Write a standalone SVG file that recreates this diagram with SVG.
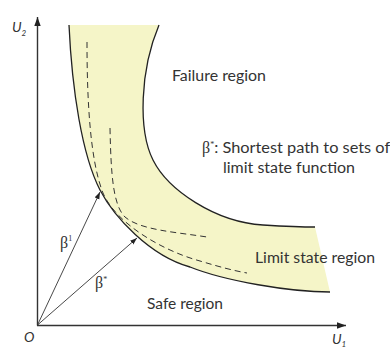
<svg xmlns="http://www.w3.org/2000/svg" width="390" height="351" viewBox="0 0 390 351">
<defs>
<style>
.txt{font-family:Lato,"Open Sans","Liberation Sans",sans-serif;font-size:15.5px;fill:#333}
.it{font-family:Lato,"Liberation Sans",sans-serif;font-style:italic;fill:#333}
.gr{font-family:"Liberation Serif","DejaVu Serif",serif;fill:#333}
.bd{fill:none;stroke:#222;stroke-width:1.3}
.ds{fill:none;stroke:#333;stroke-width:1;stroke-dasharray:6 4}
.ax{stroke:#333;stroke-width:1.4;fill:none}
.vec{stroke:#333;stroke-width:0.9;fill:none}
</style>
<marker id="axh" markerWidth="10" markerHeight="8" refX="9" refY="4" orient="auto" markerUnits="userSpaceOnUse">
<path d="M0,0.8 L9,4 L0,7.2 Z" fill="#222"/>
</marker>
<marker id="vh" markerWidth="8" markerHeight="6" refX="7" refY="3" orient="auto" markerUnits="userSpaceOnUse">
<path d="M0,0.5 L7,3 L0,5.5 Z" fill="#222"/>
</marker>
</defs>
<rect width="390" height="351" fill="#fff"/>
<g id="band">
<path d="M69,25 C72,90 82,155 100,190 C114,217 150,256 190,267 C225,281 290,292 330,292 L315,227 C300,227 280,226 263,225 C215,222 168,190 153,160 C138,130 140,70 159,25 Z" fill="#f5f5c8"/>
<path class="bd" d="M69,25 C72,90 82,155 100,190 C114,217 150,256 190,267 C225,281 290,292 330,292"/>
<path class="bd" d="M159,25 C140,70 138,130 153,160 C168,190 215,222 263,225 C280,226 300,227 315,227"/>
</g>
<g id="dashed">
<path class="ds" d="M87,42 C87,100 90,160 103,193 C115,222 160,250 200,261 C220,267 235,271 247,273"/>
<path class="ds" d="M110,128 C111,175 113,205 125,217 C140,230 175,232 207,237"/>
</g>
<g id="axes">
<line class="ax" x1="37.5" y1="325.5" x2="37.5" y2="17" marker-end="url(#axh)"/>
<line class="ax" x1="37" y1="325.5" x2="346" y2="325.5" marker-end="url(#axh)"/>
</g>
<g id="connectors">
<line class="vec" x1="37.5" y1="325" x2="100" y2="192" marker-end="url(#vh)"/>
<line class="vec" x1="37.5" y1="325" x2="137" y2="238" marker-end="url(#vh)"/>
</g>
<g id="labels">
<text class="it" x="12" y="32" font-size="14">U<tspan font-size="8" dy="4">2</tspan></text>
<text class="it" x="24" y="342" font-size="14">O</text>
<text class="it" x="332" y="344" font-size="14">U<tspan font-size="8" dy="3">1</tspan></text>
<text class="txt" x="172" y="81" textLength="94" lengthAdjust="spacingAndGlyphs">Failure region</text>
<text x="202" y="153"><tspan class="gr" font-size="16">β</tspan><tspan class="gr" font-size="8" dy="-6">*</tspan><tspan class="txt" dy="6" textLength="176" lengthAdjust="spacingAndGlyphs">: Shortest path to sets of</tspan></text>
<text class="txt" x="223" y="173" textLength="132" lengthAdjust="spacingAndGlyphs">limit state function</text>
<text class="txt" x="255" y="263" textLength="120" lengthAdjust="spacingAndGlyphs">Limit state region</text>
<text class="txt" x="147" y="309" textLength="76" lengthAdjust="spacingAndGlyphs">Safe region</text>
<text x="60" y="248"><tspan class="gr" font-size="16">β</tspan><tspan class="gr" font-size="8" dy="-7">1</tspan></text>
<text x="95" y="288"><tspan class="gr" font-size="16">β</tspan><tspan class="gr" font-size="8" dy="-6">*</tspan></text>
</g>
</svg>
